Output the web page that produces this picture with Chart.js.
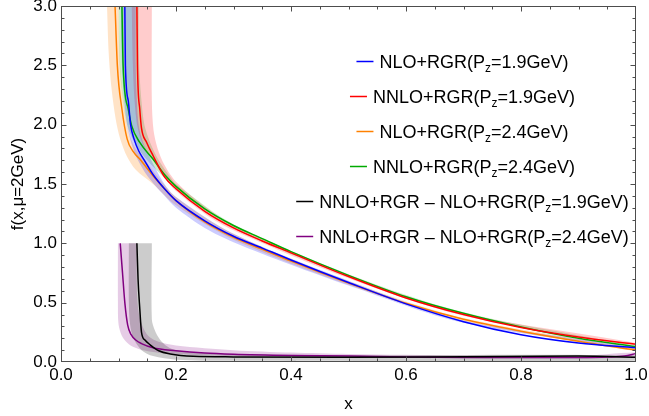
<!DOCTYPE html>
<html>
<head>
<meta charset="utf-8">
<script src="https://cdn.jsdelivr.net/npm/chart.js@4/dist/chart.umd.min.js"></script>
<style>
  body { margin: 0; background: #fff; }
  canvas { display: block; }
</style>
</head>
<body>
<canvas id="grafico" width="649" height="416"></canvas>
<script>
// curvas centrales f(x, mu=2GeV)
const xNlo19 = [0.111, 0.112, 0.117, 0.121, 0.127, 0.135, 0.145, 0.16, 0.18, 0.2, 0.25, 0.3, 0.35, 0.4, 0.5, 0.6, 0.7, 0.8, 0.9, 1.0];
const yNlo19 = [3.0, 2.5, 2.2, 2.0, 1.88, 1.78, 1.70, 1.58, 1.46, 1.36, 1.19, 1.06, 0.96, 0.86, 0.67, 0.49, 0.34, 0.23, 0.16, 0.12];

const xNnlo19 = [0.132, 0.133, 0.137, 0.140, 0.149, 0.16, 0.18, 0.2, 0.25, 0.3, 0.35, 0.4, 0.5, 0.6, 0.7, 0.8, 0.9, 1.0];
const yNnlo19 = [3.0, 2.5, 2.13, 1.97, 1.85, 1.74, 1.56, 1.46, 1.27, 1.13, 1.02, 0.92, 0.72, 0.54, 0.40, 0.29, 0.21, 0.15];

const xNlo24 = [0.094, 0.098, 0.106, 0.115, 0.126, 0.137, 0.16, 0.18, 0.2, 0.25, 0.3, 0.35, 0.4, 0.5, 0.6, 0.7, 0.8, 0.9, 1.0];
const yNlo24 = [3.0, 2.5, 2.13, 1.88, 1.77, 1.71, 1.57, 1.46, 1.36, 1.18, 1.05, 0.95, 0.85, 0.665, 0.495, 0.36, 0.26, 0.175, 0.10];

const xNnlo24 = [0.106, 0.108, 0.117, 0.123, 0.137, 0.16, 0.18, 0.2, 0.25, 0.3, 0.35, 0.4, 0.5, 0.6, 0.7, 0.8, 0.9, 1.0];
const yNnlo24 = [3.0, 2.5, 2.13, 1.99, 1.85, 1.71, 1.58, 1.48, 1.29, 1.15, 1.04, 0.93, 0.73, 0.55, 0.41, 0.295, 0.2, 0.13];

const xDif19 = [0.132, 0.134, 0.137, 0.140, 0.146, 0.155, 0.17, 0.19, 0.23, 0.3, 0.5, 0.7, 0.9, 1.0];
const yDif19 = [1.0, 0.7, 0.45, 0.25, 0.185, 0.145, 0.095, 0.068, 0.048, 0.043, 0.04, 0.045, 0.05, 0.04];

const xDif24 = [0.103, 0.107, 0.111, 0.116, 0.122, 0.13, 0.14, 0.16, 0.2, 0.25, 0.3, 0.4, 0.5, 0.6, 0.7, 0.8, 0.9, 0.95, 0.98, 1.0];
const yDif24 = [1.0, 0.75, 0.5, 0.31, 0.23, 0.185, 0.155, 0.12, 0.095, 0.075, 0.065, 0.055, 0.05, 0.042, 0.038, 0.037, 0.038, 0.042, 0.05, 0.072];

// bandas de error: borde interior y borde exterior, [x, y]
const bandaNlo19In = [[0.104, 3.0], [0.106, 2.5], [0.11, 2.2], [0.115, 2.0], [0.122, 1.85], [0.132, 1.72], [0.15, 1.57], [0.18, 1.4], [0.2, 1.3], [0.25, 1.13], [0.3, 1.01], [0.4, 0.82], [0.5, 0.645], [0.7, 0.33], [1.0, 0.11]];
const bandaNlo19Out = [[0.13, 3.0], [0.13, 2.5], [0.132, 2.2], [0.135, 2.0], [0.142, 1.86], [0.155, 1.72], [0.18, 1.5], [0.2, 1.39], [0.3, 1.08], [0.5, 0.685], [0.7, 0.35], [1.0, 0.125]];

const bandaNnlo19In = [[0.123, 3.0], [0.125, 2.5], [0.128, 2.2], [0.133, 1.98], [0.142, 1.84], [0.16, 1.7], [0.18, 1.55], [0.2, 1.44], [0.25, 1.25], [0.3, 1.11], [0.5, 0.705], [0.7, 0.39], [1.0, 0.14]];
const bandaNnlo19Out = [[0.158, 3.0], [0.158, 2.2], [0.161, 1.95], [0.168, 1.8], [0.18, 1.66], [0.2, 1.52], [0.25, 1.31], [0.3, 1.15], [0.5, 0.735], [0.7, 0.41], [1.0, 0.16]];

const bandaNlo24In = [[0.08, 3.0], [0.083, 2.6], [0.088, 2.3], [0.095, 2.05], [0.103, 1.88], [0.115, 1.73], [0.13, 1.62], [0.16, 1.5], [0.2, 1.32], [0.3, 1.03], [0.5, 0.65], [0.7, 0.345], [1.0, 0.09]];
const bandaNlo24Out = [[0.1, 3.0], [0.103, 2.5], [0.11, 2.15], [0.12, 1.9], [0.132, 1.78], [0.145, 1.71], [0.165, 1.58], [0.2, 1.39], [0.3, 1.08], [0.5, 0.68], [0.7, 0.37], [1.0, 0.11]];

const bandaNnlo24In = [[0.1, 3.0], [0.102, 2.5], [0.108, 2.2], [0.115, 2.0], [0.128, 1.85], [0.15, 1.7], [0.18, 1.55], [0.2, 1.45], [0.3, 1.13], [0.5, 0.72], [0.7, 0.4], [1.0, 0.125]];
const bandaNnlo24Out = [[0.135, 3.0], [0.136, 2.5], [0.14, 2.2], [0.145, 2.0], [0.155, 1.85], [0.17, 1.7], [0.19, 1.56], [0.2, 1.5], [0.3, 1.16], [0.5, 0.74], [0.7, 0.42], [1.0, 0.135]];

const bandaDif19In = [[0.118, 1.0], [0.118, 0.5], [0.12, 0.32], [0.126, 0.2], [0.14, 0.1], [0.16, 0.05], [0.2, 0.02], [0.3, 0.01], [1.0, 0.01]];
const bandaDif19Out = [[0.158, 1.0], [0.158, 0.36], [0.163, 0.27], [0.172, 0.19], [0.185, 0.13], [0.2, 0.1], [0.25, 0.075], [0.3, 0.065], [0.5, 0.058], [1.0, 0.055]];

const bandaDif24In = [[0.099, 1.0], [0.099, 0.5], [0.1, 0.32], [0.106, 0.22], [0.118, 0.15], [0.135, 0.11], [0.16, 0.085], [0.2, 0.068], [0.3, 0.05], [0.5, 0.038], [0.8, 0.03], [1.0, 0.04]];
const bandaDif24Out = [[0.132, 1.0], [0.132, 0.6], [0.135, 0.42], [0.142, 0.3], [0.152, 0.22], [0.17, 0.17], [0.2, 0.14], [0.3, 0.1], [0.4, 0.08], [0.5, 0.068], [0.7, 0.055], [0.9, 0.05], [1.0, 0.08]];

const etiquetas = [
  "NLO+RGR(P_z=1.9GeV)",
  "NNLO+RGR(P_z=1.9GeV)",
  "NLO+RGR(P_z=2.4GeV)",
  "NNLO+RGR(P_z=2.4GeV)",
  "NNLO+RGR \u2013 NLO+RGR(P_z=1.9GeV)",
  "NNLO+RGR \u2013 NLO+RGR(P_z=2.4GeV)"
];
const colores = ["#0000ff", "#ff0000", "#ff8000", "#00aa00", "#000000", "#800080"];
const coloresBanda = ["rgba(0,0,255,0.2)", "rgba(255,0,0,0.2)", "rgba(255,128,0,0.22)", "rgba(0,170,0,0.2)", "rgba(0,0,0,0.2)", "rgba(128,0,128,0.2)"];

const xTicks = [0, 0.2, 0.4, 0.6, 0.8, 1.0];
const yTicks = [0, 0.5, 1.0, 1.5, 2.0, 2.5, 3.0];

const FUENTE = "'Liberation Sans', Arial, sans-serif";

const puntos = (xs, ys) => xs.map((x, i) => ({ x: x, y: ys[i] }));
const contorno = (interior, exterior) =>
  interior.concat(exterior.slice().reverse()).map(([x, y]) => ({ x: x, y: y }));

const curvas = [
  puntos(xNlo19, yNlo19), puntos(xNnlo19, yNnlo19),
  puntos(xNlo24, yNlo24), puntos(xNnlo24, yNnlo24),
  puntos(xDif19, yDif19), puntos(xDif24, yDif24)
];
const bandas = [
  contorno(bandaNlo19In, bandaNlo19Out), contorno(bandaNnlo19In, bandaNnlo19Out),
  contorno(bandaNlo24In, bandaNlo24Out), contorno(bandaNnlo24In, bandaNnlo24Out),
  contorno(bandaDif19In, bandaDif19Out), contorno(bandaDif24In, bandaDif24Out)
];

const datasets = [];
curvas.forEach((d, i) => {
  datasets.push({
    label: etiquetas[i],
    data: d,
    borderColor: colores[i],
    borderWidth: 1.5,
    pointRadius: 0,
    fill: false,
    cubicInterpolationMode: "monotone",
    order: 0
  });
});
bandas.forEach((d, i) => {
  datasets.push({
    label: "banda " + i,
    esBanda: true,
    data: d,
    borderWidth: 0,
    borderColor: "rgba(0,0,0,0)",
    backgroundColor: coloresBanda[i],
    pointRadius: 0,
    fill: "shape",
    tension: 0.3,
    order: 1
  });
});

// marco con marcas hacia adentro en los cuatro lados
const marco = {
  id: "marco",
  afterDatasetsDraw(chart) {
    const { ctx, chartArea: a, scales: { x, y } } = chart;
    const l = Math.round(a.left) + 0.5, r = Math.round(a.right) - 0.5;
    const t = Math.round(a.top) + 0.5, b = Math.round(a.bottom) - 0.5;
    ctx.save();
    ctx.strokeStyle = "#4d4d4d";
    ctx.lineWidth = 1;
    ctx.beginPath();
    for (let i = 1; i < 20; i++) {
      const px = Math.round(x.getPixelForValue(i / 20)) + 0.5;
      const len = i % 4 === 0 ? 5 : 3;
      ctx.moveTo(px, b); ctx.lineTo(px, b - len);
      ctx.moveTo(px, t); ctx.lineTo(px, t + len);
    }
    for (let i = 1; i < 30; i++) {
      const py = Math.round(y.getPixelForValue(i / 10)) + 0.5;
      const len = i % 5 === 0 ? 5 : 3;
      ctx.moveTo(l, py); ctx.lineTo(l + len, py);
      ctx.moveTo(r, py); ctx.lineTo(r - len, py);
    }
    ctx.stroke();
    ctx.strokeRect(l, t, r - l, b - t);
    ctx.restore();
  }
};

// leyenda centrada con subíndice en P_z
const leyenda = {
  id: "leyenda",
  afterDraw(chart) {
    const ctx = chart.ctx;
    const grande = "18px " + FUENTE, chica = "12px " + FUENTE;
    const items = chart.data.datasets.filter(d => !d.esBanda);
    ctx.save();
    ctx.textBaseline = "alphabetic";
    ctx.fillStyle = "#000";
    items.forEach((d, i) => {
      const [antes, despues] = d.label.split("_z");
      ctx.font = grande;
      const w1 = ctx.measureText(antes).width;
      const w3 = ctx.measureText(despues).width;
      ctx.font = chica;
      const w2 = ctx.measureText("z").width;
      const total = 17 + 6 + w1 + w2 + w3;
      const cy = 61 + i * 35;
      let cx = 462.5 - total / 2;
      ctx.strokeStyle = d.borderColor;
      ctx.lineWidth = 1.5;
      ctx.beginPath();
      ctx.moveTo(cx, cy + 0.5);
      ctx.lineTo(cx + 17, cy + 0.5);
      ctx.stroke();
      cx += 23;
      const base = cy + 6.5;
      ctx.font = grande;
      ctx.fillText(antes, cx, base);
      cx += w1;
      ctx.font = chica;
      ctx.fillText("z", cx, base + 4);
      cx += w2;
      ctx.font = grande;
      ctx.fillText(despues, cx, base);
    });
    ctx.restore();
  }
};

const ctx = document.getElementById("grafico").getContext("2d");
new Chart(ctx, {
  type: "line",
  data: { datasets: datasets },
  options: {
    responsive: false,
    animation: false,
    events: [],
    layout: { padding: { top: 6, right: 13, left: 0, bottom: 0 } },
    plugins: {
      legend: { display: false },
      tooltip: { enabled: false }
    },
    scales: {
      x: {
        type: "linear",
        min: 0,
        max: 1,
        afterBuildTicks(s) { s.ticks = xTicks.map(v => ({ value: v })); },
        afterFit(s) { s.height = 54; s.paddingLeft = 0; s.paddingRight = 0; },
        grid: { display: false, drawTicks: false },
        border: { display: false },
        ticks: {
          autoSkip: false,
          maxRotation: 0,
          padding: 3,
          color: "#000",
          font: { family: FUENTE, size: 17 },
          callback: v => v.toFixed(1)
        },
        title: {
          display: true,
          text: "x",
          color: "#000",
          font: { family: FUENTE, size: 17 },
          padding: { top: 0, bottom: 1 }
        }
      },
      y: {
        type: "linear",
        min: 0,
        max: 3,
        afterBuildTicks(s) { s.ticks = yTicks.map(v => ({ value: v })); },
        afterFit(s) { s.width = 61; s.paddingTop = 0; s.paddingBottom = 0; },
        grid: { display: false, drawTicks: false },
        border: { display: false },
        ticks: {
          autoSkip: false,
          padding: 4,
          color: "#000",
          font: { family: FUENTE, size: 17 },
          callback: v => v.toFixed(1)
        },
        title: {
          display: true,
          text: "f(x,\u03bc=2GeV)",
          color: "#000",
          font: { family: FUENTE, size: 17 },
          padding: { top: 8, bottom: 0 }
        }
      }
    }
  },
  plugins: [marco, leyenda]
});
</script>
</body>
</html>
